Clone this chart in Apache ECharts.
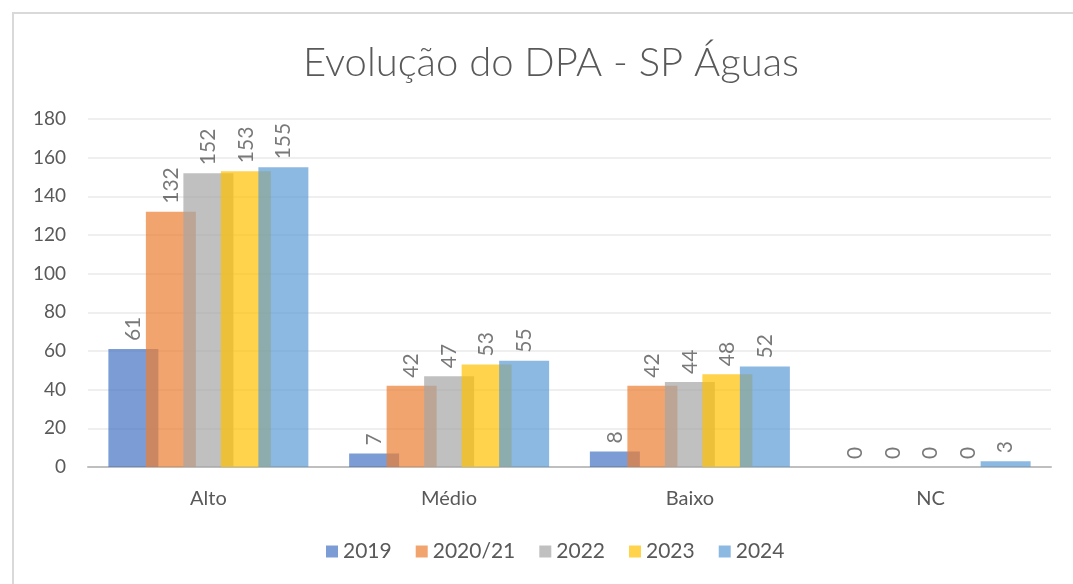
<!DOCTYPE html>
<html>
<head>
<meta charset="utf-8">
<script src="https://cdn.jsdelivr.net/npm/echarts@6/dist/echarts.min.js"></script>
<style>
    html, body {margin: 0; padding: 0; background: #fff;}
    #chart {width: 1073px; height: 584px;}
</style>
</head>
<body>
<div id="chart"></div>
<script>
let categories = ['Alto', 'Médio', 'Baixo', 'NC']
let seriesNames = ['2019', '2020/21', '2022', '2023', '2024']
let values2019 = [61, 7, 8, 0]
let values2020 = [132, 42, 42, 0]
let values2022 = [152, 47, 44, 0]
let values2023 = [153, 53, 48, 0]
let values2024 = [155, 55, 52, 3]
let colors = ['#4472C4', '#ED7D31', '#A5A5A5', '#FFC000', '#5B9BD5']

let allValues = [values2019, values2020, values2022, values2023, values2024]

let font = 'Lato, "Open Sans", sans-serif'

let chart = echarts.init(document.getElementById('chart'))

// каждая серия - отдельный год, столбцы внахлест
let series = seriesNames.map((name, i) => ({
    name: name,
    type: 'bar',
    data: allValues[i],
    barWidth: 50,
    barGap: '-25%',
    itemStyle: {color: colors[i], opacity: 0.7},
    label: {
        show: true,
        position: 'top',
        rotate: 90,
        align: 'left',
        verticalAlign: 'middle',
        distance: 8,
        color: '#404040',
        fontSize: 21,
        fontFamily: font
    }
}))

chart.setOption({
    animation: false,
    title: {
        text: 'Evolução do DPA - SP Águas',
        left: 546,
        textAlign: 'center',
        top: 38,
        textStyle: {
            fontFamily: font,
            fontWeight: 300,
            fontSize: 40,
            color: '#595959'
        }
    },
    graphic: [{
        type: 'polyline',
        shape: {points: [[13, 600], [13, 13], [1080, 13]]},
        style: {stroke: '#D9D9D9', lineWidth: 2, fill: null}
    }],
    legend: {
        bottom: 17,
        left: 321,
        itemWidth: 12,
        itemHeight: 12,
        itemGap: 24,
        icon: 'rect',
        textStyle: {fontFamily: font, fontSize: 21, color: '#595959'},
        data: seriesNames
    },
    grid: {left: 88, right: 22, top: 119, bottom: 117},
    xAxis: {
        type: 'category',
        data: categories,
        axisLine: {lineStyle: {color: '#BFBFBF', width: 2}},
        axisTick: {show: false},
        axisLabel: {fontFamily: font, fontSize: 20, color: '#595959', margin: 22}
    },
    yAxis: {
        type: 'value',
        min: 0,
        max: 180,
        interval: 20,
        axisLine: {show: false},
        axisTick: {show: false},
        axisLabel: {fontFamily: font, fontSize: 19, color: '#595959', margin: 22},
        splitLine: {lineStyle: {color: '#EAEAEA', width: 1.5}}
    },
    series: series
})
</script>
</body>
</html>
